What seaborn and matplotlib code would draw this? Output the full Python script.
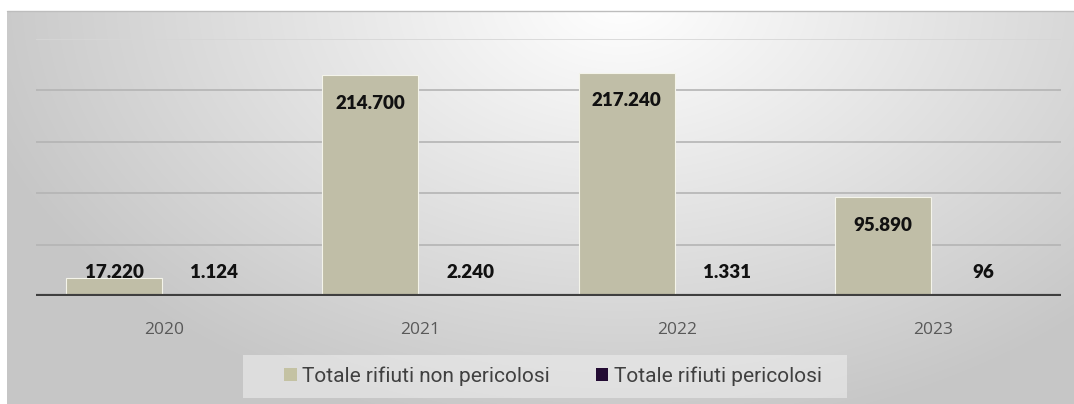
import numpy as np
import pandas as pd
import matplotlib
matplotlib.use("Agg")
import matplotlib.pyplot as plt
import seaborn as sns

anni = ["2020", "2021", "2022", "2023"]
non_pericolosi = [17220, 214700, 217240, 95890]
pericolosi = [1124, 2240, 1331, 96]
serie = ["Totale rifiuti non pericolosi", "Totale rifiuti pericolosi"]
colori = ["#c4c2a3", "#230b33"]

df = pd.DataFrame({
    "anno": anni * 2,
    "valore": non_pericolosi + pericolosi,
    "serie": [serie[0]] * len(anni) + [serie[1]] * len(anni),
})

sns.set_theme(style="white")
plt.rcParams["font.family"] = ["Lato", "DejaVu Sans"]

W, H = 1074, 404
fig = plt.figure(figsize=(W / 100, H / 100), dpi=100)
fig.patch.set_facecolor("white")

# radial grey background of the chart panel
bg = fig.add_axes([7 / W, 0, 1 - 7 / W, 1 - 11 / H], zorder=0)
yy, xx = np.mgrid[11:H:1, 7:W:1]
d = np.sqrt(((xx - 620) / 680.0) ** 2 + ((yy - 0) / 450.0) ** 2)
g = np.clip(255 - 58 * d, 198, 255) / 255.0
bg.imshow(np.dstack([g, g, g]), aspect="auto", extent=[0, 1, 0, 1], origin="upper")
bg.axis("off")
fig.add_artist(plt.Line2D([7 / W, 1], [1 - 11 / H, 1 - 11 / H], color="#bdbdbd", lw=1.0))

# legend panel
fig.add_artist(plt.Rectangle((243 / W, 1 - 398 / H), (847 - 243) / W, 43 / H,
                             transform=fig.transFigure, facecolor="#f0f0f0",
                             alpha=0.55, edgecolor="none", zorder=1))

ax = fig.add_axes([36 / W, 1 - 296 / H, (1061 - 36) / W, (296 - 39) / H], zorder=2)
ax.patch.set_alpha(0)

for v in [50000, 100000, 150000, 200000]:
    ax.axhline(v, color="#b4b4b4", lw=1.2, zorder=0)
ax.axhline(250000, color="#d6d6d6", lw=1.2, zorder=0)

sns.barplot(data=df, x="anno", y="valore", hue="serie", palette=colori,
            width=0.78, gap=0.04, edgecolor="#f4f4ea", linewidth=0.8,
            legend=False, ax=ax, zorder=2)

ax.axhline(0, color="#3f3f3f", lw=3.0, zorder=3)
ax.set_ylim(0, 250000)
ax.set_xlim(-0.5, 3.5)
for s in ax.spines.values():
    s.set_visible(False)
ax.set_yticks([])
ax.set_xlabel("")
ax.set_ylabel("")
ax.tick_params(axis="x", length=0, pad=19, labelsize=12.5, labelcolor="#595959")
for t in ax.get_xticklabels():
    t.set_fontfamily(["Open Sans", "DejaVu Sans"])

def fmt(v):
    return f"{v:,}".replace(",", ".")

for container, vals in zip(ax.containers, [non_pericolosi, pericolosi]):
    for bar, v in zip(container, vals):
        cx = bar.get_x() + bar.get_width() / 2
        if v > 50000:
            ax.annotate(fmt(v), (cx, v), xytext=(0, -20), textcoords="offset points",
                        ha="center", va="center", fontsize=13.5, fontweight="heavy",
                        color="#111111", zorder=4)
        else:
            ax.annotate(fmt(v), (cx, 0), xytext=(0, 17), textcoords="offset points",
                        ha="center", va="center", fontsize=13.5, fontweight="heavy",
                        color="#111111", zorder=4)

handles = [plt.Rectangle((0, 0), 1, 1, facecolor=c, edgecolor="none") for c in colori]
leg = fig.legend(handles, serie, loc="center", bbox_to_anchor=(553 / W, 1 - 376 / H),
                 ncol=2, frameon=False, handlelength=0.6, handleheight=0.6,
                 handletextpad=0.25, columnspacing=2.2,
                 prop={"family": ["Roboto", "DejaVu Sans"], "size": 15})
for t in leg.get_texts():
    t.set_color("#404040")

fig.savefig("out.png", dpi=100)
